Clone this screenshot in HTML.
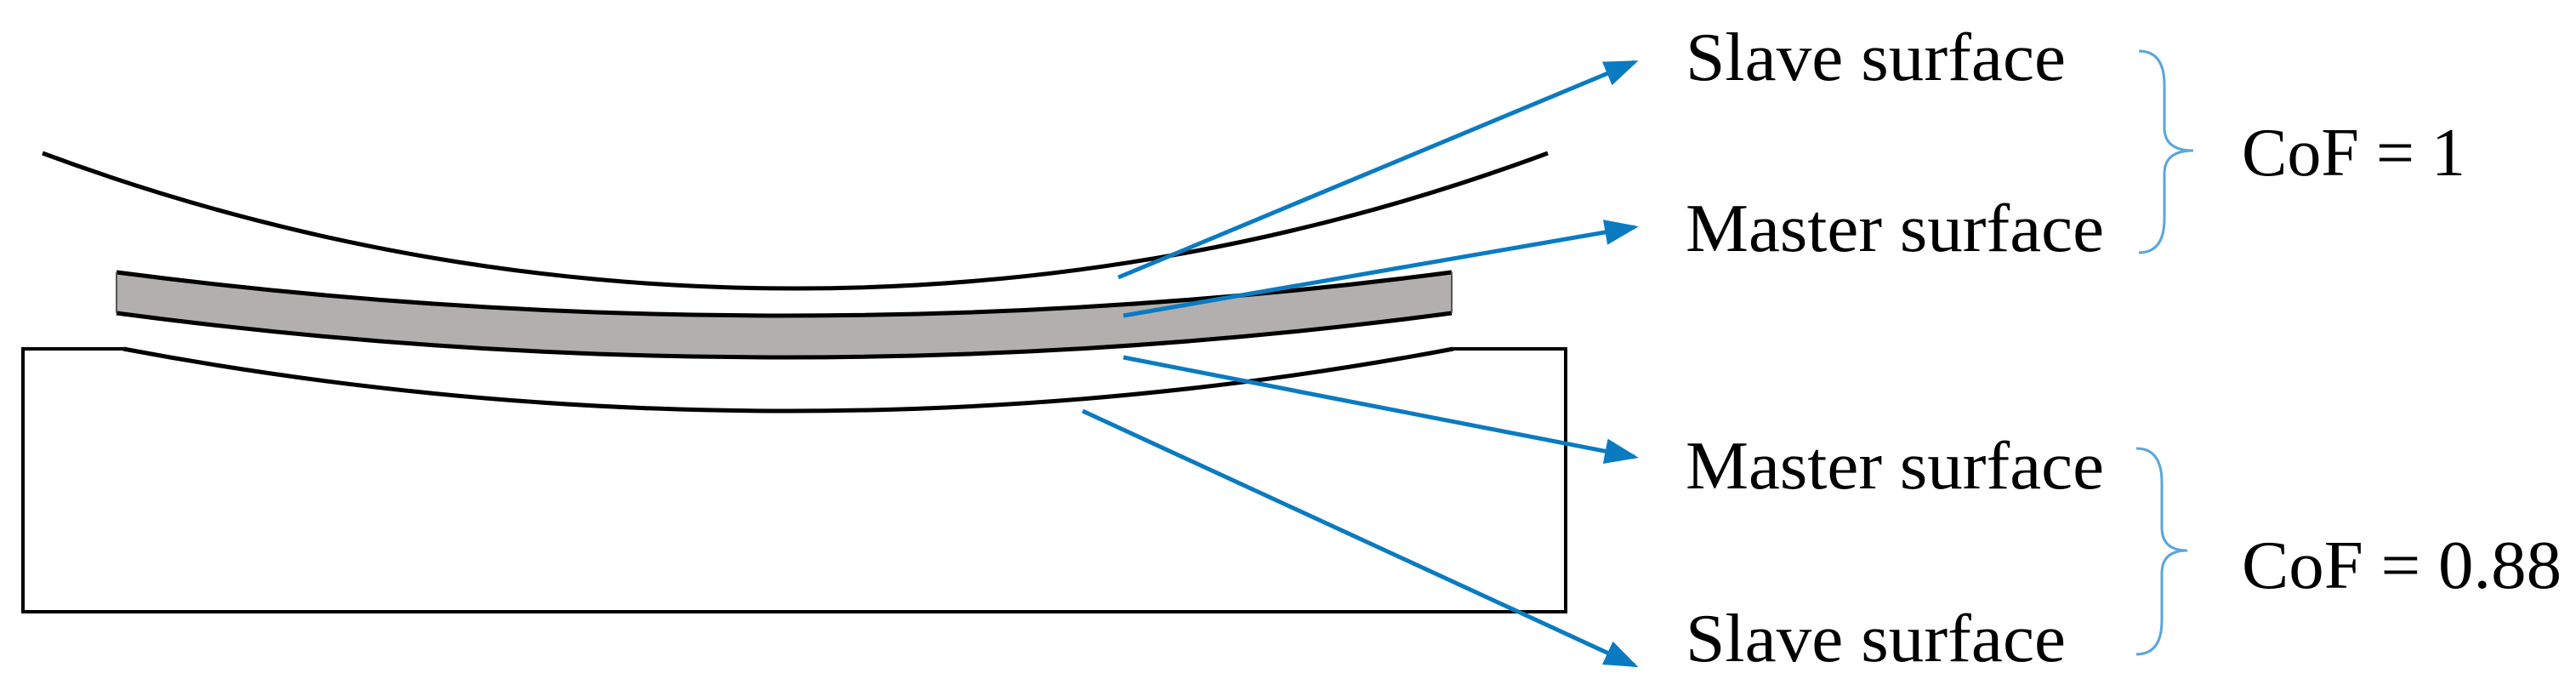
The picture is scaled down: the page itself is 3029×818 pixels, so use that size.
<!DOCTYPE html>
<html><head><meta charset="utf-8"><style>html,body{margin:0;padding:0;background:#fff}svg{display:block}</style></head>
<body>
<svg width="3029" height="818" viewBox="0 0 3029 818" xmlns="http://www.w3.org/2000/svg">
<defs>
<marker id="ah" markerWidth="8" markerHeight="6" refX="7" refY="3" orient="auto" markerUnits="strokeWidth">
<path d="M0,0 L8,3 L0,6 z" fill="#0a7bc1"/>
</marker>
</defs>
<!-- top arc -->
<path d="M50,180 A2542,2542 0 0 0 1820,180" fill="none" stroke="#000" stroke-width="5"/>
<!-- plate -->
<path d="M137,320 A6067,6067 0 0 0 1707,320 L1707,368 A5952,5952 0 0 1 137,368 Z" fill="#b3afae" stroke="none"/>
<path d="M137,320 A6067,6067 0 0 0 1707,320" fill="none" stroke="#000" stroke-width="5"/>
<path d="M137,368 A5952,5952 0 0 0 1707,368" fill="none" stroke="#000" stroke-width="5"/>
<path d="M137,320 L137,368 M1707,320 L1707,368" stroke="#555" stroke-width="2"/>
<!-- base rectangle -->
<path d="M145,410 L27,410 L27,719 L1841,719 L1841,410 L1709,410" fill="none" stroke="#000" stroke-width="4"/>
<path d="M145,410 A4225,4225 0 0 0 1709,410" fill="none" stroke="#000" stroke-width="5"/>
<!-- blue connectors -->
<g stroke="#0a7bc1" stroke-width="5" fill="none" marker-end="url(#ah)">
<line x1="1315" y1="326" x2="1922" y2="73"/>
<line x1="1321" y1="371" x2="1922" y2="267"/>
<line x1="1321" y1="420" x2="1922" y2="537"/>
<line x1="1273" y1="483" x2="1922" y2="782"/>
</g>
<!-- braces -->
<g stroke="#5aa6dc" stroke-width="3" fill="none">
<path d="M2515,60 Q2545,60 2545,100 L2545,150 Q2545,177 2579,177 Q2545,177 2545,204 L2545,257 Q2545,297 2515,297"/>
<path d="M2512,527 Q2542,527 2542,567 L2542,620 Q2542,647 2572,647 Q2542,647 2542,674 L2542,729 Q2542,769 2512,769"/>
</g>
<g font-family="Liberation Serif, serif" font-size="80" fill="#000">
<text x="1982" y="94" textLength="447" lengthAdjust="spacingAndGlyphs">Slave surface</text>
<text x="1982" y="295" textLength="492" lengthAdjust="spacingAndGlyphs">Master surface</text>
<text x="1982" y="574" textLength="492" lengthAdjust="spacingAndGlyphs">Master surface</text>
<text x="1982" y="777" textLength="447" lengthAdjust="spacingAndGlyphs">Slave surface</text>
<text x="2636" y="206" textLength="263" lengthAdjust="spacingAndGlyphs">CoF = 1</text>
<text x="2636" y="691" textLength="376" lengthAdjust="spacingAndGlyphs">CoF = 0.88</text>
</g>
</svg>
</body></html>
